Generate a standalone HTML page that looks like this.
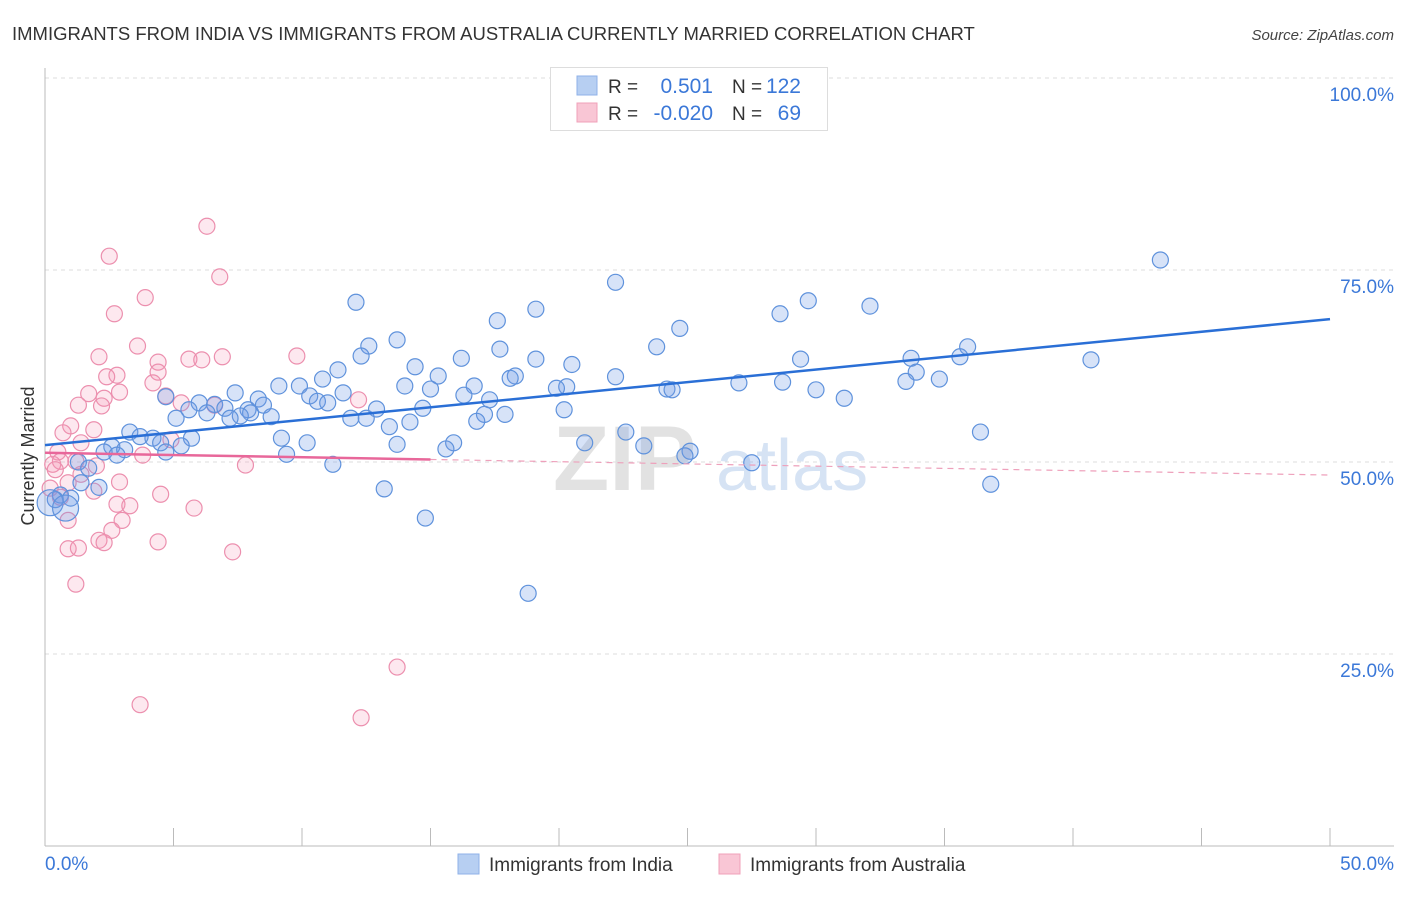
<!DOCTYPE html>
<html><head><meta charset="utf-8"><style>
body{margin:0;background:#fff;font-family:"Liberation Sans",sans-serif}
svg text{font-family:"Liberation Sans",sans-serif}
</style></head><body>
<svg id="c" width="1406" height="892" xmlns="http://www.w3.org/2000/svg">
<text x="12" y="40" font-size="18.5" fill="#333">IMMIGRANTS FROM INDIA VS IMMIGRANTS FROM AUSTRALIA CURRENTLY MARRIED CORRELATION CHART</text>
<text x="1394" y="40" font-size="15" fill="#444" font-style="italic" text-anchor="end">Source: ZipAtlas.com</text>
<g id="grid"></g>
<g><text x="553" y="490" font-size="92" font-family="Liberation Serif,serif" fill="#e2e2e2" font-weight="bold">ZIP</text><text x="716" y="490" font-size="72" fill="#d6e3f4">atlas</text></g>
<g id="pts"></g>
<g id="lines"></g>
<text transform="translate(34,456) rotate(-90)" font-size="18" fill="#333" text-anchor="middle">Currently Married</text>
<text x="45" y="870" font-size="19" fill="#3b78d8">0.0%</text>
<text x="1394" y="870" font-size="19" fill="#3b78d8" text-anchor="end">50.0%</text>
<g>
<rect x="550.5" y="67.5" width="277" height="63" fill="#fff" stroke="#ddd"/>
<rect x="577" y="76" width="20" height="19" fill="#b7cff2" stroke="#8fb2e8"/>
<rect x="577" y="103" width="20" height="19" fill="#f9c6d5" stroke="#f0a0b9"/>
<text x="608" y="93" font-size="19" fill="#333">R =</text><text x="713" y="93" font-size="21" fill="#3b78d8" text-anchor="end">0.501</text>
<text x="732" y="93" font-size="19" fill="#333">N =</text><text x="801" y="93" font-size="21" fill="#3b78d8" text-anchor="end">122</text>
<text x="608" y="120" font-size="19" fill="#333">R =</text><text x="713" y="120" font-size="21" fill="#3b78d8" text-anchor="end">-0.020</text>
<text x="732" y="120" font-size="19" fill="#333">N =</text><text x="801" y="120" font-size="21" fill="#3b78d8" text-anchor="end">69</text>
</g>
<g><rect x="458" y="854" width="21" height="20" fill="#b7cff2" stroke="#8fb2e8"/><text x="489" y="871" font-size="19" fill="#333">Immigrants from India</text></g>
<g><rect x="719" y="854" width="21" height="20" fill="#f9c6d5" stroke="#f0a0b9"/><text x="750" y="871" font-size="19" fill="#333">Immigrants from Australia</text></g>
</svg>
<script>
const yTicks=[25,50,75,100];
const yTickLabels=["25.0%","50.0%","75.0%","100.0%"];
const xTicks=[0,5,10,15,20,25,30,35,40,45,50];
const indiaX=[43.4,22.2,12.1,19.1,29.7,32.1,28.6,17.6,24.7,13.7,12.6,23.8,35.9,17.7,12.3,16.2,19.1,29.4,33.7,35.6,40.7,20.5,14.4,11.4,33.9,15.3,18.3,22.2,18.1,10.8,33.5,34.8,27.0,28.7,9.1,9.9,14.0,16.7,15.0,20.3,19.9,24.2,24.4,30.0,7.4,11.6,16.3,10.3,31.1,4.7,8.3,10.6,17.3,6.0,6.6,11.0,8.5,12.9,14.7,5.6,7.0,7.9,20.2,6.3,8.0,8.8,7.6,7.2,5.1,11.9,12.5,17.1,17.9,16.8,14.2,13.4,22.6,36.4,3.3,9.2,5.7,4.2,10.2,21.0,23.3,13.7,15.9,15.6,2.6,4.5,5.3,3.1,2.3,2.8,4.7,9.4,25.1,24.9,1.3,11.2,27.5,1.7,1.4,36.8,2.1,13.2,0.6,0.4,1.0,0.2,0.8,14.8,18.8,3.7];
const indiaY=[76.3,73.4,70.8,69.9,71.0,70.3,69.3,68.4,67.4,65.9,65.1,65.0,65.0,64.7,63.8,63.5,63.4,63.4,63.5,63.7,63.3,62.7,62.4,62.0,61.7,61.2,61.2,61.1,60.9,60.8,60.5,60.8,60.3,60.4,59.9,59.9,59.9,59.9,59.5,59.8,59.6,59.5,59.4,59.4,59.0,59.0,58.7,58.6,58.3,58.5,58.2,57.9,58.1,57.7,57.5,57.7,57.4,56.9,57.0,56.8,57.0,56.8,56.8,56.4,56.4,55.9,56.0,55.7,55.7,55.7,55.7,56.2,56.2,55.3,55.2,54.6,53.9,53.9,53.9,53.1,53.1,53.1,52.5,52.5,52.1,52.3,52.5,51.7,52.0,52.5,52.1,51.6,51.3,50.9,51.3,51.0,51.4,50.8,50.0,49.7,49.9,49.2,47.3,47.1,46.7,46.5,45.7,45.1,45.3,44.7,44.0,42.7,32.9,53.3];
const ausX=[6.3,2.5,6.8,3.9,2.7,3.6,2.1,5.6,6.1,6.9,9.8,4.4,4.4,2.8,2.4,4.2,1.7,2.9,2.3,4.7,12.2,1.3,2.2,5.3,6.6,1.0,0.7,1.9,1.4,0.5,0.6,0.3,0.4,1.2,2.0,3.8,7.8,1.4,0.9,2.9,0.2,1.9,4.5,2.8,3.3,5.8,0.9,3.0,2.6,2.1,2.3,4.4,0.9,1.3,7.3,1.2,13.7,3.7,12.3,0.6,4.9];
const ausY=[80.7,76.8,74.1,71.4,69.3,65.1,63.7,63.4,63.3,63.7,63.8,63.0,61.7,61.3,61.1,60.3,58.9,59.1,58.3,58.6,58.1,57.4,57.3,57.7,57.4,54.7,53.8,54.2,52.5,51.3,50.1,49.7,49.0,50.1,49.5,50.9,49.6,48.4,47.3,47.4,46.6,46.2,45.8,44.5,44.3,44.0,42.4,42.4,41.1,39.8,39.5,39.6,38.7,38.8,38.3,34.1,23.3,18.4,16.7,45.4,52.9];
const bigIndia=[44.7,44.0];
const indiaTrend=[52.2,68.6];
const ausTrend=[51.2,48.3];
const ausSolidEnd=15;
const X=v=>45+v/50*1285, Y=v=>846-v/100*768;
const NS="http://www.w3.org/2000/svg";
function mk(t,a,p){const e=document.createElementNS(NS,t);for(const k in a)e.setAttribute(k,a[k]);p.appendChild(e);return e;}
const g=document.getElementById('grid');
yTicks.forEach((t,i)=>{
 const l=mk('line',{x1:45,x2:1394,y1:Y(t),y2:Y(t),stroke:'#ddd','stroke-dasharray':'4,4'},g);
 
 
 const tx=mk('text',{x:1394,y:Y(t)+23,'font-size':19,fill:'#3b78d8','text-anchor':'end'},g);
 tx.textContent=yTickLabels[i];
 
 
});
const ax=mk('line',{x1:45,x2:45,y1:68,y2:846,stroke:'#bbb'},g);


const bx=mk('line',{x1:45,x2:1394,y1:846,y2:846,stroke:'#bbb'},g);


xTicks.forEach(t=>{
 const l=mk('line',{x1:X(t),x2:X(t),y1:828,y2:846,stroke:'#bbb'},g);
 
 
});
const p=document.getElementById('pts');
ausX.forEach((x,i)=>{
 const c=mk('circle',{cx:X(x),cy:Y(ausY[i]),r:8,fill:'rgba(244,150,180,0.22)',stroke:'#ec8fae','stroke-width':1.2},p);
 
 
});
indiaX.forEach((x,i)=>{
 const big=bigIndia.includes(indiaY[i])&&x<1;
 const c=mk('circle',{cx:X(x),cy:Y(indiaY[i]),r:big?13:8,fill:'rgba(110,155,230,0.28)',stroke:'#5f92dc','stroke-width':1.2},p);
 
 
});
const L=document.getElementById('lines');
const t1=mk('line',{x1:X(0),y1:Y(indiaTrend[0]),x2:X(50),y2:Y(indiaTrend[1]),stroke:'#2a6fd6','stroke-width':2.5},L);


const ay=x=>ausTrend[0]+(ausTrend[1]-ausTrend[0])*x/50;
const t2=mk('line',{x1:X(0),y1:Y(ay(0)),x2:X(ausSolidEnd),y2:Y(ay(ausSolidEnd)),stroke:'#e8679a','stroke-width':2.5},L);


const t3=mk('line',{x1:X(ausSolidEnd),y1:Y(ay(ausSolidEnd)),x2:X(50),y2:Y(ay(50)),stroke:'#eea0bb','stroke-width':1.2,'stroke-dasharray':'6,5'},L);


</script>
</body></html>
